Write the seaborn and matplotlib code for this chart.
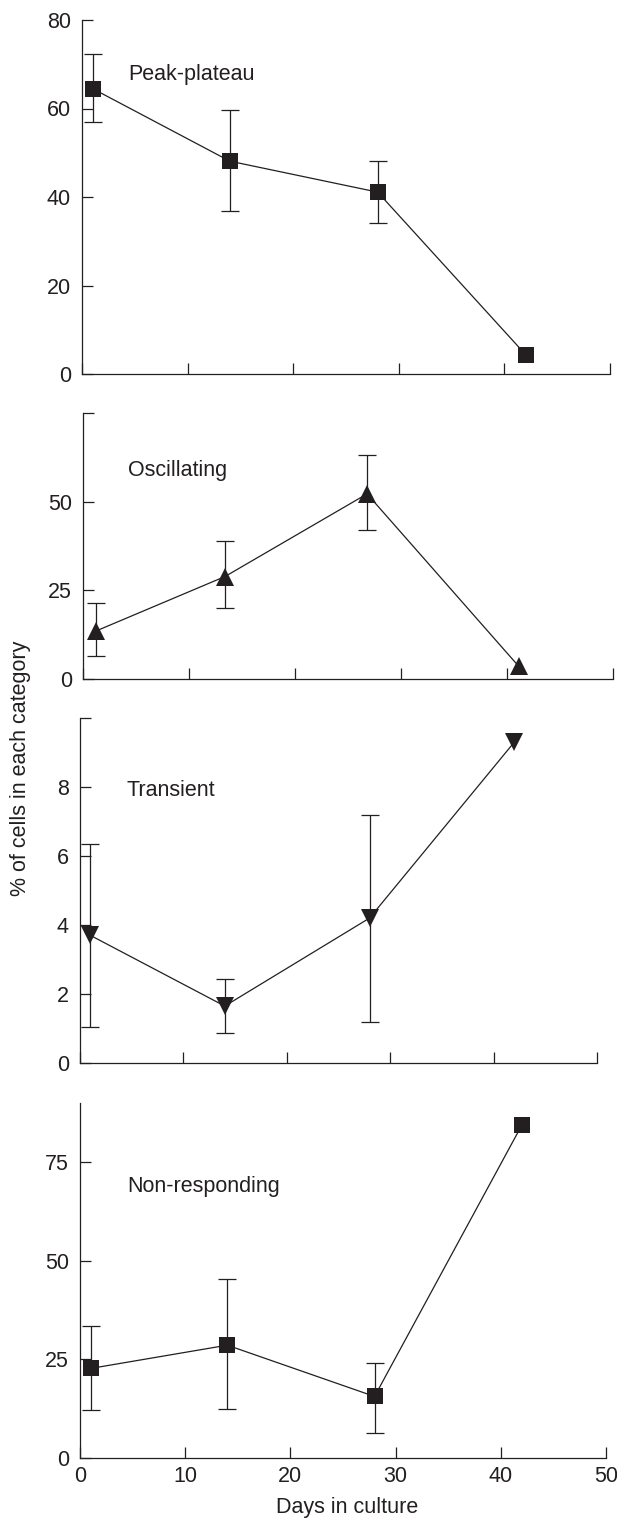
import matplotlib
matplotlib.use('Agg')
import matplotlib.pyplot as plt
import seaborn as sns
import pandas as pd
import numpy as np

# valores
days = [1, 14, 28, 42]
osc_days = [1.2, 13.4, 26.8, 41.1]

peak = [64.5, 48.1, 41.1, 4.4]
peak_lo = [56.9, 36.8, 34.1, np.nan]
peak_hi = [72.3, 59.7, 48.1, np.nan]

osc = [13.5, 28.9, 52.2, 3.6]
osc_lo = [6.5, 19.9, 41.9, np.nan]
osc_hi = [21.3, 39.0, 63.2, np.nan]

trans = [3.7, 1.65, 4.2, 9.3]
trans_lo = [1.04, 0.87, 1.19, np.nan]
trans_hi = [6.35, 2.43, 7.2, np.nan]

nonresp = [22.7, 28.6, 15.6, 84.4]
nonresp_lo = [12.2, 12.5, 6.4, np.nan]
nonresp_hi = [33.4, 45.4, 24.2, np.nan]

labels = ['Peak-plateau', 'Oscillating', 'Transient', 'Non-responding']
xticks = [0, 10, 20, 30, 40, 50]

COR = '#231f20'
FS = 15.5

sns.set_style('ticks')
plt.rcParams['font.family'] = ['Liberation Sans', 'DejaVu Sans']

W, H = 617, 1522
fig = plt.figure(figsize=(W / 100, H / 100), dpi=100)


def eixo(left, right, top, bottom):
    return fig.add_axes([left / W, 1 - bottom / H, (right - left) / W, (bottom - top) / H])


paineis = [
    # (pixels do eixo, x, y, lo, hi, marcador, tamanho, ylim, yticks, yticklabels, pos texto)
    ((82, 610, 20, 374), days, peak, peak_lo, peak_hi, 's', 12, 80,
     [0, 20, 40, 60, 80], ['0', '20', '40', '60', '80'], (4.4, 67.6)),
    ((83, 613, 413, 679), osc_days, osc, osc_lo, osc_hi, '^', 13.5, 75,
     [0, 25, 50, 75], ['0', '25', '50', ''], (4.2, 58.7)),
    ((80, 597, 718, 1063), days, trans, trans_lo, trans_hi, 'v', 13.5, 10,
     [0, 2, 4, 6, 8, 10], ['0', '2', '4', '6', '8', ''], (4.5, 7.9)),
    ((80, 606, 1103, 1458), days, nonresp, nonresp_lo, nonresp_hi, 's', 12, 90,
     [0, 25, 50, 75], ['0', '25', '50', '75'], (4.5, 68.9)),
]

for i, (px, xs, ys, lo, hi, mk, ms, ytop, yt, ytl, tpos) in enumerate(paineis):
    ax = eixo(*px)
    df = pd.DataFrame({'dia': xs, 'valor': ys, 'lo': lo, 'hi': hi})
    err = np.array([df['valor'] - df['lo'], df['hi'] - df['valor']])
    ax.errorbar(df['dia'], df['valor'], yerr=err, fmt='none', ecolor=COR,
                elinewidth=0.9, capsize=6.8, capthick=0.9, zorder=2, clip_on=False)
    sns.lineplot(data=df, x='dia', y='valor', ax=ax, color=COR, linewidth=0.9,
                 marker=mk, markersize=ms, markeredgewidth=0, markerfacecolor=COR,
                 zorder=3, clip_on=False)
    ax.set_xlim(0, 50)
    ax.set_ylim(0, ytop)
    ax.set_xticks(xticks)
    ax.set_yticks(yt)
    ax.set_yticklabels(ytl)
    if i < 3:
        ax.set_xticklabels([])
    else:
        ax.set_xticklabels([str(t) for t in xticks])
    ax.set_xlabel('')
    ax.set_ylabel('')
    ax.tick_params(direction='in', length=8, width=0.9, color=COR,
                   labelsize=FS, labelcolor=COR)
    ax.tick_params(axis='y', pad=8)
    ax.tick_params(axis='x', pad=6)
    for s in ['left', 'bottom']:
        ax.spines[s].set_linewidth(0.9)
        ax.spines[s].set_color(COR)
    sns.despine(ax=ax)
    ax.text(tpos[0], tpos[1], labels[i], fontsize=FS, color=COR, va='center', ha='left')

fig.text(347 / W, 1 - 1508 / H, 'Days in culture', fontsize=FS, color=COR,
         ha='center', va='center')
fig.text(21 / W, 1 - 768 / H, '% of cells in each category', fontsize=FS, color=COR,
         ha='center', va='center', rotation=90)

fig.savefig('out.png', dpi=100)
